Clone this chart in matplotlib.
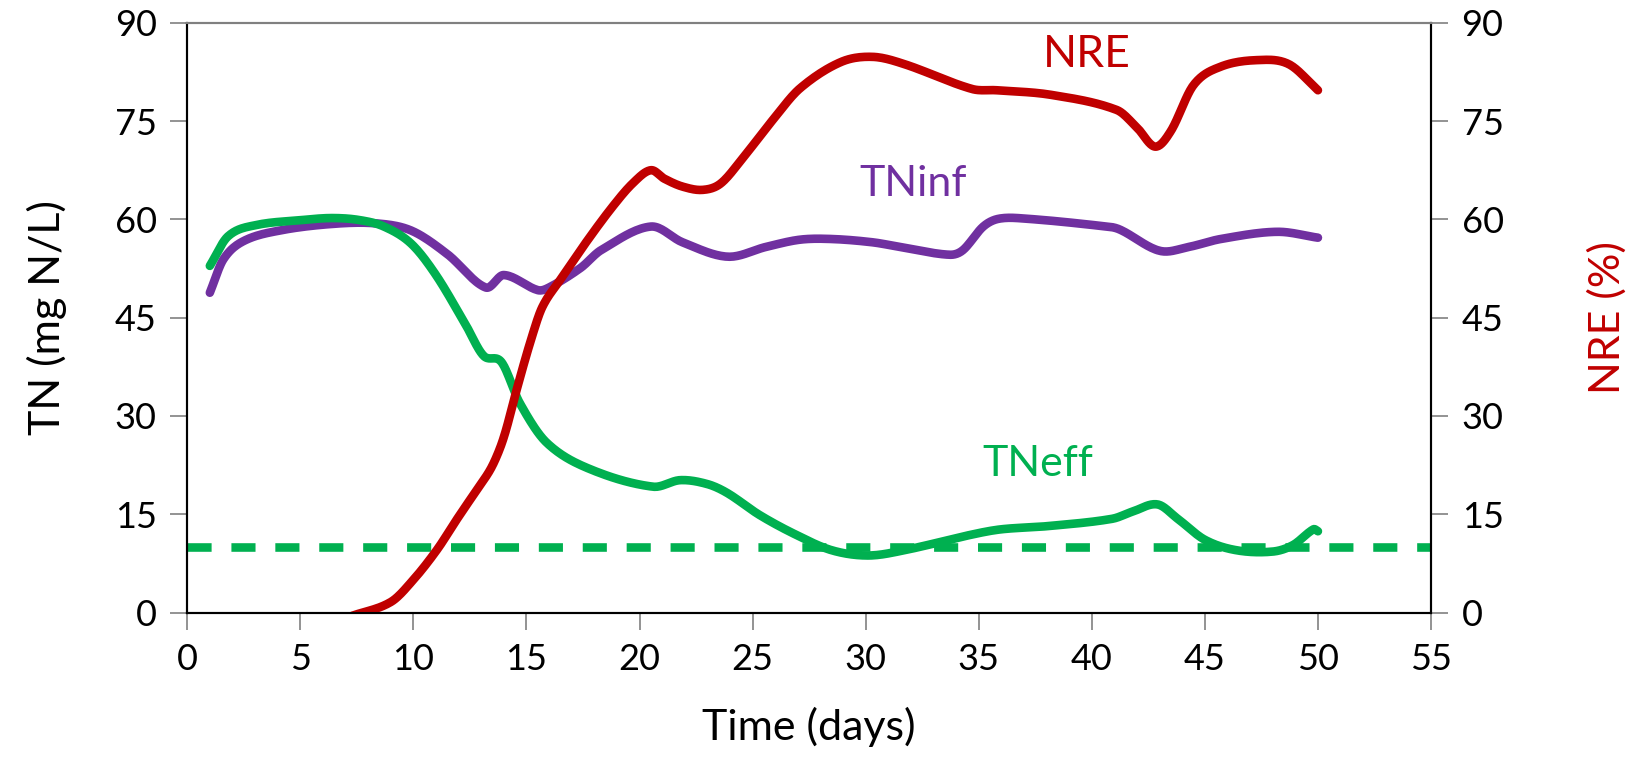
import matplotlib
matplotlib.use("Agg")
import matplotlib.pyplot as plt
import numpy as np

plt.rcParams['font.family'] = ['Lato', 'DejaVu Sans']

# values
days_inf = [1, 1.6, 2.5, 4.1, 6.4, 8.3, 9.9, 11.5, 13.2, 14.0, 15.5, 16.0, 17.4, 18.3, 20.5,
            21.9, 23.9, 25.6, 27.1, 28.5, 30.3, 31.5, 33.7, 34.3, 35.2, 35.9, 37.1, 40.4, 41.2,
            43.0, 44.3, 45.7, 48.2, 50]
tn_inf = [48.8, 53.9, 56.7, 58.3, 59.3, 59.4, 58.3, 54.7, 49.6, 51.5, 49.2, 49.6, 52.6, 55.3, 58.9,
          56.5, 54.3, 55.8, 56.9, 57.0, 56.5, 55.8, 54.6, 55.3, 58.9, 60.1, 60.1, 59.0, 58.5,
          55.2, 55.8, 57.0, 58.1, 57.2]

days_eff = [1, 1.8, 3.0, 5.1, 6.4, 7.6, 8.7, 9.9, 11.0, 12.3, 13.1, 13.9, 14.7, 15.9, 17.8,
            20.6, 21.8, 23.0, 23.9, 25.3, 26.9, 28.5, 30.1, 31.7, 34.7, 36.0, 38.1, 40.9,
            41.8, 42.9, 43.8, 45.0, 46.4, 48.0, 48.9, 49.8, 50]
tn_eff = [52.9, 57.4, 59.1, 59.9, 60.2, 59.9, 58.9, 56.3, 51.5, 44.0, 39.2, 38.2, 32.0, 25.9, 21.9,
          19.2, 20.2, 19.6, 18.2, 14.9, 11.9, 9.5, 8.7, 9.5, 11.9, 12.7, 13.2, 14.3,
          15.4, 16.5, 14.3, 11.1, 9.5, 9.3, 10.3, 12.7, 12.4]

days_nre = [7.3, 9.0, 10.0, 11.05, 11.9, 12.8, 13.4, 13.8, 14.1, 14.6, 15.2, 15.7, 16.5, 17.7,
            18.8, 19.7, 20.5, 21.1, 21.9, 22.8, 23.6, 24.6, 25.9, 27.1, 28.9, 30.3, 31.7, 34.7,
            35.8, 38.2, 41.1, 42.0, 42.8, 43.5, 44.5, 45.7, 47.3, 48.7, 50]
nre = [-0.5, 1.6, 5.0, 9.6, 14.1, 18.7, 21.8, 24.8, 27.9, 34.4, 41.6, 46.6, 50.8, 56.8,
       61.9, 65.5, 67.5, 66.2, 65.0, 64.5, 65.5, 69.5, 75.2, 80.0, 84.0, 84.8, 83.7, 79.9,
       79.7, 79.0, 76.7, 74.0, 71.1, 73.5, 80.5, 83.3, 84.3, 83.7, 79.7]

tn_limit = 10

x_ticks = list(range(0, 56, 5))
y_ticks = list(range(0, 91, 15))

c_inf = '#7030A0'
c_eff = '#00B050'
c_nre = '#C00000'


def smooth(x, y, n=20):
    # cubic Hermite through the points, tangents from neighbours (smoothed-line look)
    x = np.asarray(x, float)
    y = np.asarray(y, float)
    m = np.empty_like(y)
    m[1:-1] = (y[2:] - y[:-2]) / (x[2:] - x[:-2])
    m[0] = (y[1] - y[0]) / (x[1] - x[0])
    m[-1] = (y[-1] - y[-2]) / (x[-1] - x[-2])
    xs, ys = [], []
    t = np.linspace(0, 1, n, endpoint=False)
    for i in range(len(x) - 1):
        h = x[i + 1] - x[i]
        h00 = 2 * t ** 3 - 3 * t ** 2 + 1
        h10 = t ** 3 - 2 * t ** 2 + t
        h01 = -2 * t ** 3 + 3 * t ** 2
        h11 = t ** 3 - t ** 2
        xs.append(x[i] + t * h)
        ys.append(h00 * y[i] + h10 * h * m[i] + h01 * y[i + 1] + h11 * h * m[i + 1])
    xs.append([x[-1]])
    ys.append([y[-1]])
    return np.concatenate(xs), np.concatenate(ys)


fig = plt.figure(figsize=(16.28, 7.59), dpi=100)
ax = fig.add_axes([0.115, 0.193, 0.764, 0.777])
ax2 = ax.twinx()

lw = 6.2
ax.axhline(tn_limit, color=c_eff, lw=lw, ls=(0, (2.8, 2.3)))
ax.plot(*smooth(days_inf, tn_inf), color=c_inf, lw=lw, solid_capstyle='round')
ax.plot(*smooth(days_eff, tn_eff), color=c_eff, lw=lw, solid_capstyle='round')
ax2.plot(*smooth(days_nre, nre), color=c_nre, lw=lw, solid_capstyle='round')

ax.set_xlim(0, 55)
ax.set_ylim(0, 90)
ax2.set_ylim(0, 90)
ax.set_xticks(x_ticks)
ax.set_yticks(y_ticks)
ax2.set_yticks(y_ticks)

for a in (ax, ax2):
    a.tick_params(labelsize=26, length=12, width=1.2, color='#808080', pad=10)
    for s in a.spines.values():
        s.set_linewidth(1.5)
    a.spines['top'].set_color('#808080')

ax.set_xlabel('Time (days)', fontsize=31, labelpad=22)
ax.set_ylabel('TN (mg N/L)', fontsize=31, labelpad=34)
ax2.set_ylabel('NRE (%)', fontsize=31, color=c_nre, rotation=90, labelpad=60)

ax.text(39.8, 85.2, 'NRE', color=c_nre, fontsize=32, ha='center', va='center')
ax.text(32.1, 65.4, 'TNinf', color=c_inf, fontsize=31, ha='center', va='center')
ax.text(37.6, 22.7, 'TNeff', color=c_eff, fontsize=31, ha='center', va='center')

fig.savefig('out.png', dpi=100)
